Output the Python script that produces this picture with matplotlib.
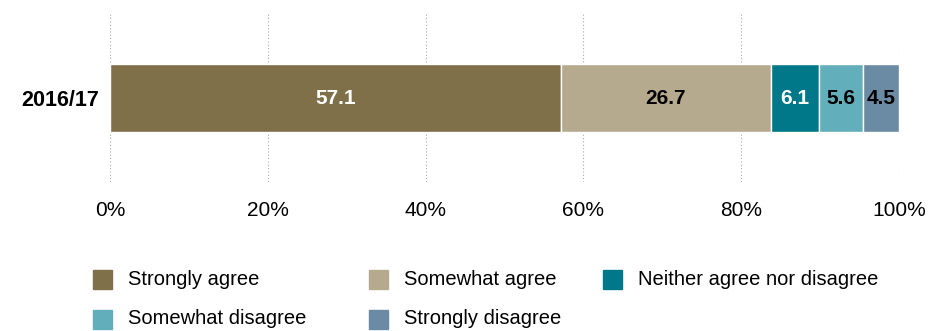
import matplotlib.pyplot as plt
from matplotlib.patches import Rectangle

plt.rcParams['font.family'] = ['Liberation Sans', 'DejaVu Sans']

year = "2016/17"
categories = ["Strongly agree", "Somewhat agree", "Neither agree nor disagree",
              "Somewhat disagree", "Strongly disagree"]
values = [57.1, 26.7, 6.1, 5.6, 4.5]
colors = ["#80704a", "#b5a98e", "#00788a", "#62aebb", "#6a8ba3"]
label_colors = ["white", "black", "white", "black", "black"]

W, H = 944, 331
fig = plt.figure(figsize=(W / 100, H / 100), dpi=100)
ax = fig.add_axes([110 / W, 1 - 182 / H, (899 - 110) / W, (182 - 14) / H])

left = 0
for val, col, tc in zip(values, colors, label_colors):
    ax.barh(0, val, left=left, height=0.405, color=col, edgecolor="white",
            linewidth=1.0, zorder=3)
    ax.text(left + val / 2, 0, f"{val:.1f}", ha="center", va="center",
            color=tc, fontsize=15, fontweight="bold", zorder=4)
    left += val

ax.set_xlim(0, 100)
ax.set_ylim(-0.5, 0.5)
ax.set_xticks(range(0, 101, 20))
ax.set_xticklabels([f"{t}%" for t in range(0, 101, 20)], fontsize=15)
ax.set_yticks([0])
ax.set_yticklabels([year], fontsize=15.5, fontweight="bold")
ax.tick_params(length=0)
ax.tick_params(axis="y", pad=8)
ax.tick_params(axis="x", pad=14)
for s in ax.spines.values():
    s.set_visible(False)
ax.grid(axis="x", color="#aaaaaa", linestyle=(0, (1, 2)), linewidth=0.8, zorder=0)

# legend laid out in a fixed grid below the axis
col_x = [93, 369, 603]
row_y = [279.5, 319]
for i, (cat, col) in enumerate(zip(categories, colors)):
    x = col_x[i % 3]
    y = row_y[i // 3]
    fig.patches.append(Rectangle((x / W, 1 - (y + 9.5) / H), 19 / W, 19 / H,
                                 color=col, transform=fig.transFigure, figure=fig))
    fig.text((x + 35) / W, 1 - y / H, cat, ha="left", va="center", fontsize=14.5)

fig.savefig("out.png", dpi=100)
